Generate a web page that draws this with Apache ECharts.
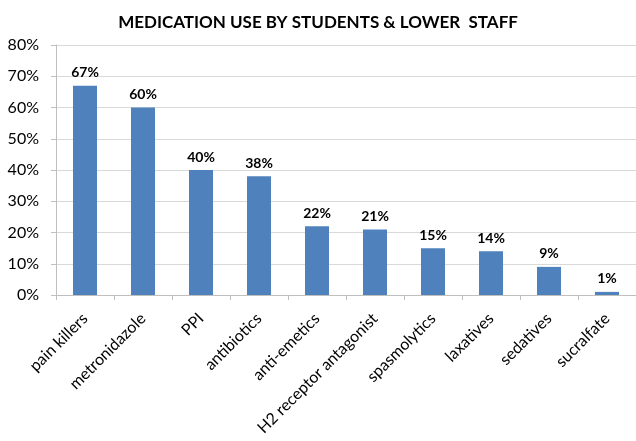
<!DOCTYPE html>
<html><head><meta charset="utf-8">
<script src="https://cdn.jsdelivr.net/npm/echarts@6/dist/echarts.min.js"></script>
<style>html,body{margin:0;padding:0;background:#fff}#c{width:636px;height:441px}</style>
</head><body><div id="c"></div>
<script>
const titleText = 'MEDICATION USE BY STUDENTS & LOWER  STAFF';
const categories = ['pain killers','metronidazole','PPI','antibiotics','anti-emetics','H2 receptor antagonist','spasmolytics','laxatives','sedatives','sucralfate'];
const values = [67,60,40,38,22,21,15,14,9,1];
const yTicks = [0,10,20,30,40,50,60,70,80];

const chart = echarts.init(document.getElementById('c'), null, {renderer:'canvas'});
const font = 'Lato, "Open Sans", sans-serif';
chart.setOption({
  animation:false,
  title:{text:titleText, left:'center', top:9, textStyle:{fontFamily:font, fontSize:17, fontWeight:'bold', color:'#000'}},
  grid:{left:56, right:-5, top:45, bottom:146},
  xAxis:{type:'category', data:categories,
    axisLine:{lineStyle:{color:'#bfbfbf'}},
    axisTick:{show:true, alignWithLabel:false, length:5, lineStyle:{color:'#bfbfbf'}},
    axisLabel:{rotate:45, interval:0, fontFamily:font, fontSize:16, color:'#000', margin:21}},
  yAxis:{type:'value', min:yTicks[0], max:yTicks[yTicks.length-1], interval:10,
    axisLine:{show:true, lineStyle:{color:'#bfbfbf'}},
    axisTick:{show:true, length:5, lineStyle:{color:'#bfbfbf'}},
    splitLine:{lineStyle:{color:'#d9d9d9'}},
    axisLabel:{formatter:v=>v+'%', fontFamily:font, fontSize:16, color:'#000', margin:17}},
  series:[{type:'bar', data:values, barWidth:24, itemStyle:{color:'#4F81BD'},
    label:{show:true, position:'top', formatter:p=>p.value+'%', fontFamily:font, fontSize:14, fontWeight:'bold', color:'#000', distance:6}}]
});
</script></body></html>
